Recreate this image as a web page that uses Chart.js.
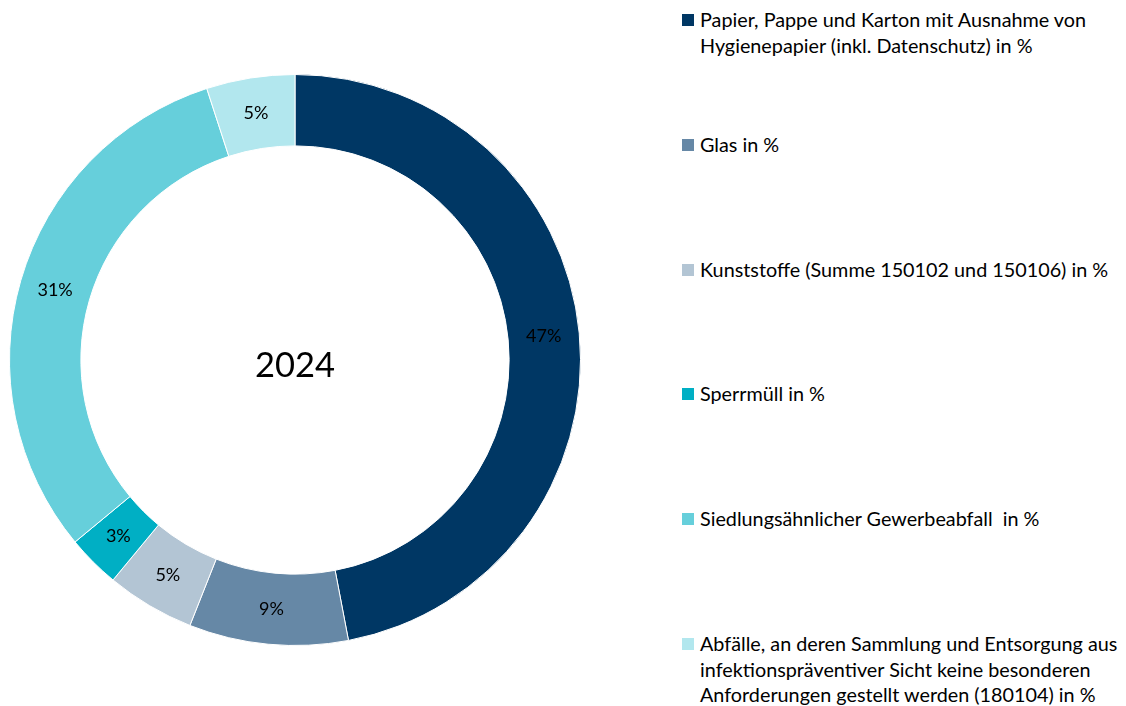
<!DOCTYPE html>
<html lang="de">
<head>
<meta charset="utf-8">
<script src="https://cdn.jsdelivr.net/npm/chart.js@4.4.1/dist/chart.umd.min.js"></script>
<style>
  html, body { margin: 0; padding: 0; background: #ffffff; }
  body { width: 1126px; height: 706px; position: relative; overflow: hidden; font-family: Lato, "Open Sans", sans-serif; }
  #wrap { position: absolute; left: 0; top: 0; width: 590px; height: 706px; }
  #legend { position: absolute; left: 682px; top: 0; width: 444px; margin: 0; padding: 0; list-style: none; }
  #legend li { position: absolute; left: 0; padding-left: 18px; font-size: 19.8px; line-height: 25.7px; color: #000; white-space: pre; }
  #legend li span.sw { position: absolute; left: 0; top: 7px; width: 12px; height: 12px; }
</style>
</head>
<body>
<div id="wrap"><canvas id="chart" width="590" height="706"></canvas></div>
<ul id="legend"></ul>
<script>
// Abfallzusammensetzung 2024 (Anteile in %)
const categories = [
  ["Papier, Pappe und Karton mit Ausnahme von", "Hygienepapier (inkl. Datenschutz) in %"],
  ["Glas in %"],
  ["Kunststoffe (Summe 150102 und 150106) in %"],
  ["Sperrmüll in %"],
  ["Siedlungsähnlicher Gewerbeabfall  in %"],
  ["Abfälle, an deren Sammlung und Entsorgung aus", "infektionspräventiver Sicht keine besonderen", "Anforderungen gestellt werden (180104) in %"]
];
const shares = [47, 9, 5, 3, 31, 5];
const colors = ["#003764", "#6688a6", "#b3c5d4", "#00afc4", "#66cfdb", "#b2e7ee"];
const centerTitle = "2024";

// Prozentwerte auf den Ringsegmenten
const sliceLabels = {
  id: "sliceLabels",
  afterDatasetsDraw(chart) {
    const ctx = chart.ctx;
    const meta = chart.getDatasetMeta(0);
    ctx.save();
    ctx.font = "18px Lato, 'Open Sans', sans-serif";
    ctx.fillStyle = "#000";
    ctx.textAlign = "center";
    ctx.textBaseline = "middle";
    meta.data.forEach((arc, i) => {
      const p = arc.tooltipPosition();
      ctx.fillText(shares[i] + "%", p.x, p.y);
    });
    ctx.restore();
  }
};

// Jahreszahl in der Mitte
const centerText = {
  id: "centerText",
  afterDatasetsDraw(chart) {
    const arc = chart.getDatasetMeta(0).data[0];
    const ctx = chart.ctx;
    ctx.save();
    ctx.font = "34.5px Lato, 'Open Sans', sans-serif";
    ctx.fillStyle = "#000";
    ctx.textAlign = "center";
    ctx.textBaseline = "middle";
    ctx.fillText(centerTitle, arc.x, arc.y + 6);
    ctx.restore();
  }
};

new Chart(document.getElementById("chart"), {
  type: "doughnut",
  data: {
    labels: categories.map(c => c.join(" ")),
    datasets: [{
      data: shares,
      backgroundColor: colors,
      borderColor: "#ffffff",
      borderWidth: 1
    }]
  },
  options: {
    responsive: false,
    animation: false,
    cutout: "75%",
    layout: { padding: { left: 9, right: 9, top: 74, bottom: 60 } },
    plugins: { legend: { display: false }, tooltip: { enabled: false } }
  },
  plugins: [sliceLabels, centerText]
});

// Legende rechts
const legendTops = [7, 132, 257, 381, 506, 631];
const ul = document.getElementById("legend");
categories.forEach((lines, i) => {
  const li = document.createElement("li");
  li.style.top = legendTops[i] + "px";
  const sw = document.createElement("span");
  sw.className = "sw";
  sw.style.background = colors[i];
  li.appendChild(sw);
  lines.forEach((t, k) => {
    if (k > 0) li.appendChild(document.createElement("br"));
    li.appendChild(document.createTextNode(t));
  });
  ul.appendChild(li);
});
</script>
</body>
</html>
